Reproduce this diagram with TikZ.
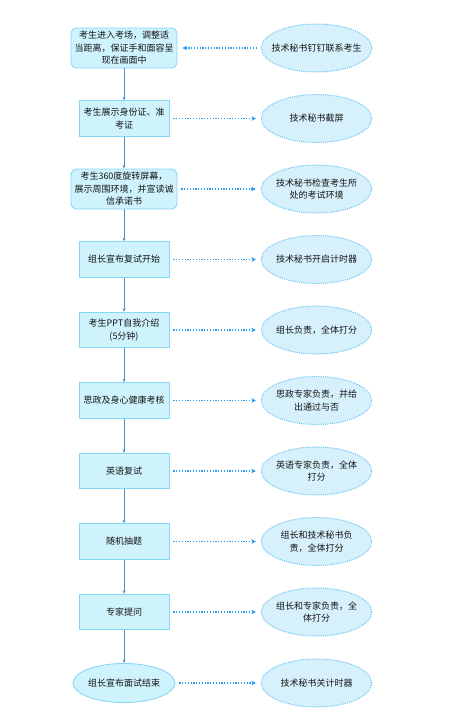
\documentclass[tikz,border=0pt]{standalone}
\usepackage{fontspec}
\setmainfont{Noto Sans CJK SC}
\usetikzlibrary{shapes.geometric,arrows.meta}
\definecolor{boxfill}{HTML}{CFF3FD}
\definecolor{boxline}{HTML}{86D6F5}
\definecolor{ellfill}{HTML}{D6F1FC}
\definecolor{ellline}{HTML}{62C0F2}
\definecolor{flowline}{HTML}{4A90CF}
\definecolor{noteline}{HTML}{2A9DF4}
\definecolor{txt}{HTML}{141414}
\begin{document}
\begin{tikzpicture}[x=1pt,y=1pt,
  font=\fontsize{9}{12.5}\selectfont, text=txt,
  stepbox/.style={rectangle, draw=boxline, fill=boxfill, line width=0.9pt,
    minimum width=90pt, minimum height=35.5pt, inner sep=0pt, align=center},
  roundbox/.style={stepbox, rounded corners=6pt, minimum width=106pt, minimum height=40pt},
  endbox/.style={ellipse, draw=boxline, fill=boxfill, line width=0.9pt,
    minimum width=98pt, minimum height=39pt, inner sep=0pt, align=center},
  notebox/.style={ellipse, draw=ellline, fill=ellfill, line width=1pt,
    dash pattern=on 1pt off 1.2pt,
    minimum width=107pt, minimum height=48pt, inner sep=-6pt, text width=90pt, align=center},
  flow/.style={draw=flowline, line width=0.9pt, -{Stealth[length=3.5pt,width=3pt]}},
  note/.style={draw=noteline, line width=1.2pt, dash pattern=on 1.2pt off 1.6pt,
    -{Stealth[length=4.5pt,width=4.5pt]}, shorten <=4pt, shorten >=5pt}
]
\useasboundingbox (0,0) rectangle (454,-712);
\def\lx{124}
\def\rx{316.5}
\node[roundbox] (b1) at (\lx,-48) {考生进入考场，调整适\\当距离，保证手和面容呈\\现在画面中};
\node[stepbox] (b2) at (\lx,-118.5) {考生展示身份证、准\\考证};
\node[roundbox] (b3) at (\lx,-189) {考生360度旋转屏幕，\\展示周围环境，并宣读诚\\信承诺书};
\node[stepbox] (b4) at (\lx,-259.5) {组长宣布复试开始};
\node[stepbox] (b5) at (\lx,-330) {考生PPT自我介绍\\(5分钟)};
\node[stepbox] (b6) at (\lx,-400.5) {思政及身心健康考核};
\node[stepbox] (b7) at (\lx,-471) {英语复试};
\node[stepbox] (b8) at (\lx,-541.5) {随机抽题};
\node[stepbox] (b9) at (\lx,-612) {专家提问};
\node[endbox] (b10) at (\lx,-683) {组长宣布面试结束};

\node[notebox] (n1) at (\rx,-48) {技术秘书钉钉联系考生};
\node[notebox] (n2) at (\rx,-118.5) {技术秘书截屏};
\node[notebox] (n3) at (\rx,-189) {技术秘书检查考生所\\处的考试环境};
\node[notebox] (n4) at (\rx,-259.5) {技术秘书开启计时器};
\node[notebox] (n5) at (\rx,-330) {组长负责，全体打分};
\node[notebox] (n6) at (\rx,-400.5) {思政专家负责，并给\\出通过与否};
\node[notebox] (n7) at (\rx,-471) {英语专家负责，全体\\打分};
\node[notebox] (n8) at (\rx,-541.5) {组长和技术秘书负\\责，全体打分};
\node[notebox] (n9) at (\rx,-612) {组长和专家负责，全\\体打分};
\node[notebox] (n10) at (\rx,-683) {技术秘书关计时器};

\foreach \a/\b in {b1/b2,b2/b3,b3/b4,b4/b5,b5/b6,b6/b7,b7/b8,b8/b9,b9/b10}
  \draw[flow] (\a) -- (\b);

\draw[note] (n1) -- (b1);
\foreach \i in {2,...,10}
  \draw[note] (b\i) -- (n\i);
\end{tikzpicture}
\end{document}
